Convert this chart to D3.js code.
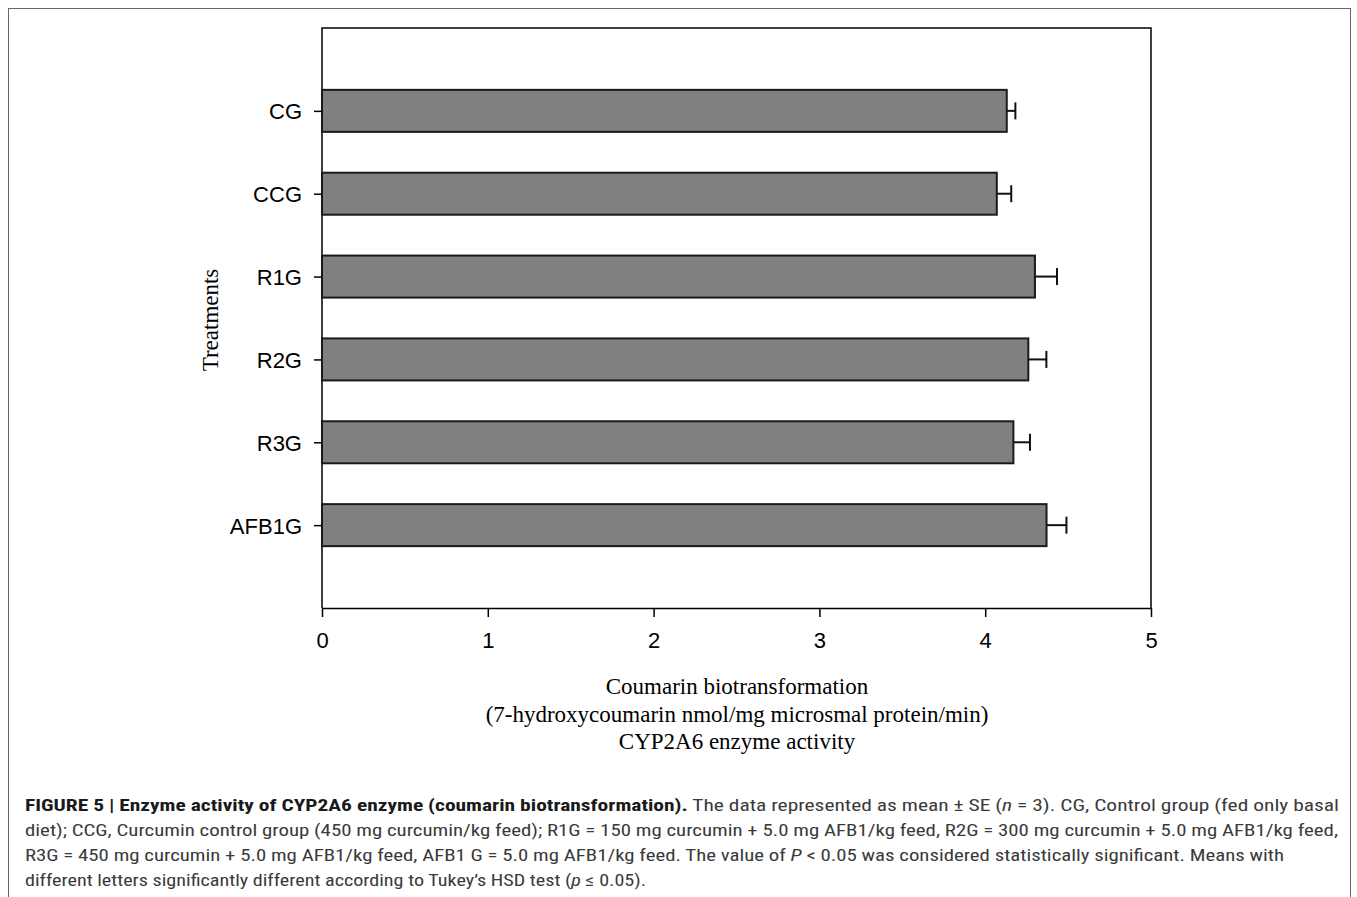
<!DOCTYPE html>
<html>
<head>
<meta charset="utf-8">
<script src="https://cdn.jsdelivr.net/npm/d3@7"></script>
<style>
  body { margin: 0; background: #fff; }
  svg { display: block; }
</style>
</head>
<body>
<div id="chart"></div>
<script>
// data
var treatments = ["CG", "CCG", "R1G", "R2G", "R3G", "AFB1G"];
var means = [4.13, 4.07, 4.30, 4.26, 4.17, 4.37];
var errors = [0.052, 0.087, 0.133, 0.109, 0.10, 0.12];
var xTicks = [0, 1, 2, 3, 4, 5];

var svgWidth = 1357;
var svgHeight = 897;

var margin = { top: 28, right: 206, bottom: 289, left: 322 };
var width = svgWidth - margin.left - margin.right;
var height = svgHeight - margin.top - margin.bottom;

var svg = d3.select("#chart")
  .append("svg")
  .attr("width", svgWidth)
  .attr("height", svgHeight);

// outer figure frame
svg.append("rect")
  .attr("x", 8.5)
  .attr("y", 8.5)
  .attr("width", 1342)
  .attr("height", 900)
  .attr("fill", "none")
  .attr("stroke", "#666")
  .attr("stroke-width", 1);

var chartGroup = svg.append("g")
  .attr("transform", `translate(${margin.left}, ${margin.top})`);

var xScale = d3.scaleLinear().domain([0, 5]).range([0, width]);
// categories sit at positions 1..6 on a 0..7 track
var yScale = d3.scaleLinear().domain([0, treatments.length + 1]).range([0, height]);
var barH = 42;

// plot box (top, left, right)
chartGroup.append("path")
  .attr("d", `M0,${height}V0H${width}V${height}`)
  .attr("fill", "none")
  .attr("stroke", "#000")
  .attr("stroke-width", 1.5);

// bars
chartGroup.selectAll("rect.bar")
  .data(treatments)
  .enter()
  .append("rect")
  .attr("class", "bar")
  .attr("x", xScale(0))
  .attr("y", (d, i) => yScale(i + 1) - barH / 2)
  .attr("width", (d, i) => xScale(means[i]) - xScale(0))
  .attr("height", barH)
  .attr("fill", "#808080")
  .attr("stroke", "#1a1a1a")
  .attr("stroke-width", 2);

// error bars
var errG = chartGroup.selectAll("g.err")
  .data(treatments)
  .enter()
  .append("g")
  .attr("class", "err")
  .attr("stroke", "#111")
  .attr("stroke-width", 2);

errG.append("line")
  .attr("x1", (d, i) => xScale(means[i]))
  .attr("x2", (d, i) => xScale(means[i] + errors[i]))
  .attr("y1", (d, i) => yScale(i + 1))
  .attr("y2", (d, i) => yScale(i + 1));

errG.append("line")
  .attr("x1", (d, i) => xScale(means[i] + errors[i]))
  .attr("x2", (d, i) => xScale(means[i] + errors[i]))
  .attr("y1", (d, i) => yScale(i + 1) - 8.5)
  .attr("y2", (d, i) => yScale(i + 1) + 8.5);

// x axis
var bottomAxis = d3.axisBottom(xScale)
  .tickValues(xTicks)
  .tickSize(9)
  .tickPadding(15)
  .tickSizeOuter(0)
  .tickFormat(d3.format("d"));

var xAxis = chartGroup.append("g")
  .attr("transform", `translate(0, ${height})`)
  .call(bottomAxis);

// y axis
var leftAxis = d3.axisLeft(yScale)
  .tickValues(d3.range(1, treatments.length + 1))
  .tickSize(8)
  .tickPadding(12)
  .tickSizeOuter(0)
  .tickFormat(d => treatments[d - 1]);

var yAxis = chartGroup.append("g").call(leftAxis);
yAxis.select(".domain").remove();

[xAxis, yAxis].forEach(function(ax) {
  ax.selectAll("line").attr("stroke", "#000").attr("stroke-width", 1.5);
  ax.selectAll(".domain").attr("stroke", "#000").attr("stroke-width", 1.5);
  ax.selectAll("text")
    .attr("fill", "#000")
    .style("font-family", "'Liberation Sans', Arial, sans-serif")
    .style("font-size", "22px");
});
yAxis.selectAll("text").attr("dy", "0.36em");

// axis titles
chartGroup.append("text")
  .attr("transform", "rotate(-90)")
  .attr("x", -(height / 2 + 2))
  .attr("y", -104)
  .attr("text-anchor", "middle")
  .style("font-family", "'Liberation Serif', 'Times New Roman', serif")
  .style("font-size", "23px")
  .text("Treatments");

var xTitle = ["Coumarin biotransformation",
  "(7-hydroxycoumarin nmol/mg microsmal protein/min)",
  "CYP2A6 enzyme activity"];
chartGroup.selectAll("text.xtitle")
  .data(xTitle)
  .enter()
  .append("text")
  .attr("class", "xtitle")
  .attr("x", width / 2 + 0.5)
  .attr("y", (d, i) => height + 86 + i * 27.5)
  .attr("text-anchor", "middle")
  .style("font-family", "'Liberation Serif', 'Times New Roman', serif")
  .style("font-size", "23px")
  .text(d => d);

// caption
var capFont = "'Liberation Sans Narrow', 'Roboto Condensed', 'Liberation Sans', Arial, sans-serif";
var cap = svg.append("g")
  .style("font-family", capFont)
  .style("font-size", "17px")
  .attr("fill", "#3a3a3a");

function capLine(y, len, parts) {
  var t = cap.append("text")
    .attr("x", 25)
    .attr("y", y)
    .attr("textLength", len)
    .attr("lengthAdjust", "spacingAndGlyphs");
  parts.forEach(function(p) {
    var s = t.append("tspan").text(p[0]);
    if (p[1] === "b") s.attr("font-weight", "bold").attr("fill", "#1a1a1a");
    if (p[1] === "i") s.attr("font-style", "italic");
  });
}

capLine(811, 1314, [
  ["FIGURE 5 | Enzyme activity of CYP2A6 enzyme (coumarin biotransformation).", "b"],
  [" The data represented as mean \u00b1 SE ("], ["n", "i"],
  [" = 3). CG, Control group (fed only basal"]
]);
capLine(836, 1313, [
  ["diet); CCG, Curcumin control group (450 mg curcumin/kg feed); R1G = 150 mg curcumin + 5.0 mg AFB1/kg feed, R2G = 300 mg curcumin + 5.0 mg AFB1/kg feed,"]
]);
capLine(861, 1259, [
  ["R3G = 450 mg curcumin + 5.0 mg AFB1/kg feed, AFB1 G = 5.0 mg AFB1/kg feed. The value of "],
  ["P", "i"], [" < 0.05 was considered statistically significant. Means with"]
]);
capLine(886, 621, [
  ["different letters significantly different according to Tukey\u2019s HSD test ("],
  ["p", "i"], [" \u2264 0.05)."]
]);
</script>
</body>
</html>
